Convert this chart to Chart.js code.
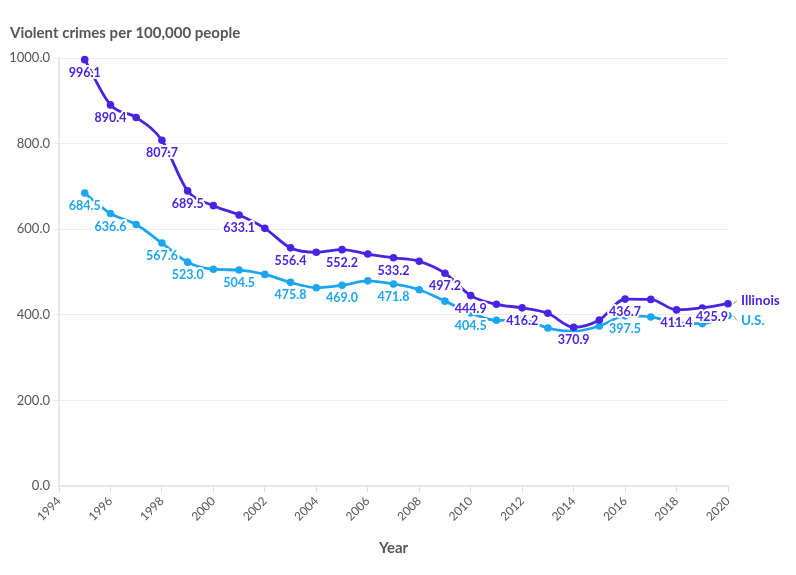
<!DOCTYPE html>
<html>
<head>
<meta charset="utf-8">
<script src="https://cdn.jsdelivr.net/npm/chart.js@4.4.1/dist/chart.umd.min.js"></script>
<style>
  html, body { margin: 0; padding: 0; background: #fff; }
  #wrap { position: relative; width: 796px; height: 575px; }
</style>
</head>
<body>
<div id="wrap"><canvas id="crimeChart"></canvas></div>
<script>
// Data
const years = [1995, 1996, 1997, 1998, 1999, 2000, 2001, 2002, 2003, 2004, 2005, 2006, 2007,
  2008, 2009, 2010, 2011, 2012, 2013, 2014, 2015, 2016, 2017, 2018, 2019, 2020];
const illinois = [996.1, 890.4, 861.0, 807.7, 689.5, 655.0, 633.1, 602.0, 556.4, 546.0, 552.2, 542.0, 533.2,
  525.0, 497.2, 444.9, 424.5, 416.2, 403.5, 370.9, 388.0, 436.7, 436.0, 411.4, 416.0, 425.9];
const unitedStates = [684.5, 636.6, 611.0, 567.6, 523.0, 506.5, 504.5, 494.4, 475.8, 463.2, 469.0, 479.3, 471.8,
  458.6, 431.9, 404.5, 387.1, 387.8, 369.1, 361.6, 373.7, 397.5, 394.9, 381.0, 379.4, 398.5];
const illinoisLabelYears = [1995, 1996, 1998, 1999, 2001, 2003, 2005, 2007, 2009, 2010, 2012, 2014, 2016, 2018, 2020];
const usLabelYears = [1995, 1996, 1998, 1999, 2001, 2003, 2005, 2007, 2010, 2016];
const yTicks = [0, 200, 400, 600, 800, 1000];

const ILLINOIS_COLOR = '#4a22e2';
const US_COLOR = '#1ca6f0';
const TEXT_GRAY = '#555555';
const FONT = 'Lato, "Open Sans", sans-serif';

// titel, label nilai, nama seri
const decorations = {
  id: 'decorations',
  afterDatasetsDraw(chart) {
    const ctx = chart.ctx;
    const area = chart.chartArea;
    ctx.save();

    // label nilai di bawah titik
    ctx.font = 'bold 12.5px ' + FONT;
    ctx.textAlign = 'center';
    ctx.textBaseline = 'middle';
    ctx.lineJoin = 'round';
    chart.data.datasets.forEach((ds, i) => {
      const meta = chart.getDatasetMeta(i);
      meta.data.forEach((pt, j) => {
        if (!ds.labelYears.includes(years[j])) return;
        const txt = ds.data[j].y.toFixed(1);
        const w = ctx.measureText(txt).width;
        let x = pt.x;
        if (x + w / 2 > area.right) x = area.right - w / 2;
        const y = pt.y + 13;
        ctx.strokeStyle = '#fff';
        ctx.lineWidth = 4;
        ctx.strokeText(txt, x, y);
        ctx.fillStyle = ds.borderColor;
        ctx.fillText(txt, x, y);
      });
    });

    // nama seri di kanan
    const names = [
      { ds: 0, text: 'Illinois', dy: -3 },
      { ds: 1, text: 'U.S.', dy: 5 }
    ];
    ctx.font = 'bold 13.5px ' + FONT;
    ctx.textAlign = 'left';
    names.forEach(n => {
      const pts = chart.getDatasetMeta(n.ds).data;
      const last = pts[pts.length - 1];
      const ly = last.y + n.dy;
      ctx.strokeStyle = '#999';
      ctx.lineWidth = 1;
      ctx.beginPath();
      ctx.moveTo(area.right + 5, last.y);
      ctx.lineTo(area.right + 9, ly);
      ctx.stroke();
      ctx.fillStyle = chart.data.datasets[n.ds].borderColor;
      ctx.fillText(n.text, area.right + 13, ly);
    });

    // judul dan label sumbu x
    ctx.fillStyle = TEXT_GRAY;
    ctx.font = 'bold 15px ' + FONT;
    ctx.textAlign = 'left';
    ctx.fillText('Violent crimes per 100,000 people', 10, 33);
    ctx.textAlign = 'center';
    ctx.fillText('Year', (area.left + area.right) / 2, 548);
    ctx.restore();
  }
};

function toPoints(values) {
  return years.map((yr, i) => ({ x: yr, y: values[i] }));
}

const ctx = document.getElementById('crimeChart').getContext('2d');
new Chart(ctx, {
  type: 'line',
  data: {
    datasets: [
      {
        label: 'Illinois',
        data: toPoints(illinois),
        labelYears: illinoisLabelYears,
        borderColor: ILLINOIS_COLOR,
        backgroundColor: ILLINOIS_COLOR,
        pointBackgroundColor: ILLINOIS_COLOR,
        borderWidth: 2.8,
        pointRadius: 3.8,
        pointBorderWidth: 0,
        cubicInterpolationMode: 'monotone'
      },
      {
        label: 'U.S.',
        data: toPoints(unitedStates),
        labelYears: usLabelYears,
        borderColor: US_COLOR,
        backgroundColor: US_COLOR,
        pointBackgroundColor: US_COLOR,
        borderWidth: 2.8,
        pointRadius: 3.8,
        pointBorderWidth: 0,
        cubicInterpolationMode: 'monotone'
      }
    ]
  },
  options: {
    responsive: true,
    maintainAspectRatio: false,
    animation: false,
    clip: false,
    layout: { padding: { top: 58, right: 68, bottom: 0, left: 0 } },
    plugins: {
      legend: { display: false },
      tooltip: { enabled: false }
    },
    scales: {
      x: {
        type: 'linear',
        min: 1994,
        max: 2020,
        afterFit: (scale) => { scale.height = 89; },
        grid: { drawOnChartArea: false, tickLength: 6, color: '#dddddd' },
        border: { color: '#e8e8e8', width: 2 },
        ticks: {
          stepSize: 2,
          minRotation: 45,
          maxRotation: 45,
          padding: 2,
          color: TEXT_GRAY,
          font: { family: FONT, size: 12 },
          callback: (v) => String(v)
        }
      },
      y: {
        min: 0,
        max: 1000,
        afterFit: (scale) => { scale.width = 59; },
        afterBuildTicks: (scale) => { scale.ticks = yTicks.map(v => ({ value: v })); },
        grid: { color: '#ececec', tickLength: 6 },
        border: { color: '#e8e8e8', width: 2 },
        ticks: {
          padding: 3,
          color: TEXT_GRAY,
          font: { family: FONT, size: 13 },
          callback: (v) => v.toFixed(1)
        }
      }
    }
  },
  plugins: [decorations]
});
</script>
</body>
</html>
